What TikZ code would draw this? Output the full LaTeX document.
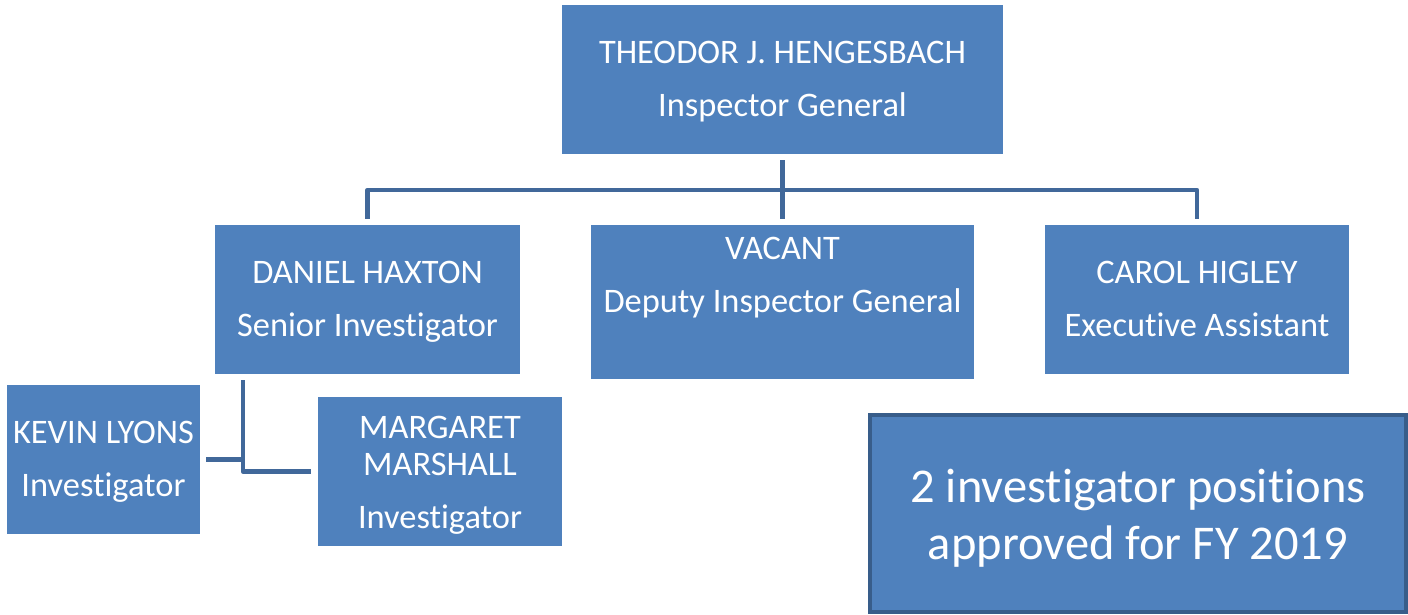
\documentclass[tikz,border=0pt]{standalone}
\usepackage{fontspec}
\setmainfont{Carlito}[Ligatures=NoCommon]
\definecolor{boxblue}{HTML}{4F81BD}
\definecolor{linkblue}{HTML}{41689A}
\definecolor{noteedge}{HTML}{385D8A}
\begin{document}
\begin{tikzpicture}[x=1pt,y=1pt,
  unit/.style={fill=boxblue, draw=none, inner sep=0pt},
  txt/.style={text=white, align=center, inner sep=0pt,
    font=\fontsize{34.4}{53}\selectfont},
  link/.style={draw=linkblue, line width=4.5pt, line join=round}]
\useasboundingbox (0,0) rectangle (1408,-614);
\node[unit, minimum width=441pt, minimum height=149pt,
  label={[txt, yshift=-2pt]center:THEODOR J. HENGESBACH\\Inspector General}] (top) at (782.5,-79.5) {};
\node[unit, minimum width=305pt, minimum height=149pt,
  label={[txt, yshift=-2pt]center:DANIEL HAXTON\\Senior Investigator}] (dan) at (367.5,-299.5) {};
\node[unit, minimum width=383pt, minimum height=154pt,
  label={[txt, yshift=24.5pt]center:VACANT\\Deputy Inspector General}] (vac) at (782.5,-302) {};
\node[unit, minimum width=304pt, minimum height=149pt,
  label={[txt, yshift=1pt]center:CAROL HIGLEY\\Executive Assistant}] (car) at (1197,-299.5) {};
\node[unit, minimum width=193pt, minimum height=149pt,
  label={[txt, yshift=-2pt]center:KEVIN LYONS\\Investigator}] (kev) at (103.5,-459.5) {};
\node[unit, minimum width=244pt, minimum height=149pt,
  label={[txt, yshift=-3.5pt, font=\fontsize{34.4}{37}\selectfont]center:MARGARET\\MARSHALL\\[16pt]Investigator}] (mar) at (440,-471.5) {};
\node[unit, draw=noteedge, line width=4pt, minimum width=536pt, minimum height=197pt,
  label={[txt, yshift=-5pt, font=\fontsize{48.5}{57}\selectfont]center:2 investigator positions\\approved for FY 2019}] (note) at (1138,-513.5) {};
\coordinate (bus) at (782.5,-190);
\coordinate (dsub) at ([shift={(28pt,-6pt)}]dan.south west);
\draw[link] ([yshift=-6pt]top.south) -- ([yshift=6pt]vac.north);
\draw[link] ([yshift=6pt]dan.north) |- (bus) -| ([yshift=6pt]car.north);
\draw[link] (dsub) |- ([xshift=-7pt]mar.west);
\draw[link] ([xshift=6pt]kev.east) -- (kev.east -| dsub);
\end{tikzpicture}
\end{document}
